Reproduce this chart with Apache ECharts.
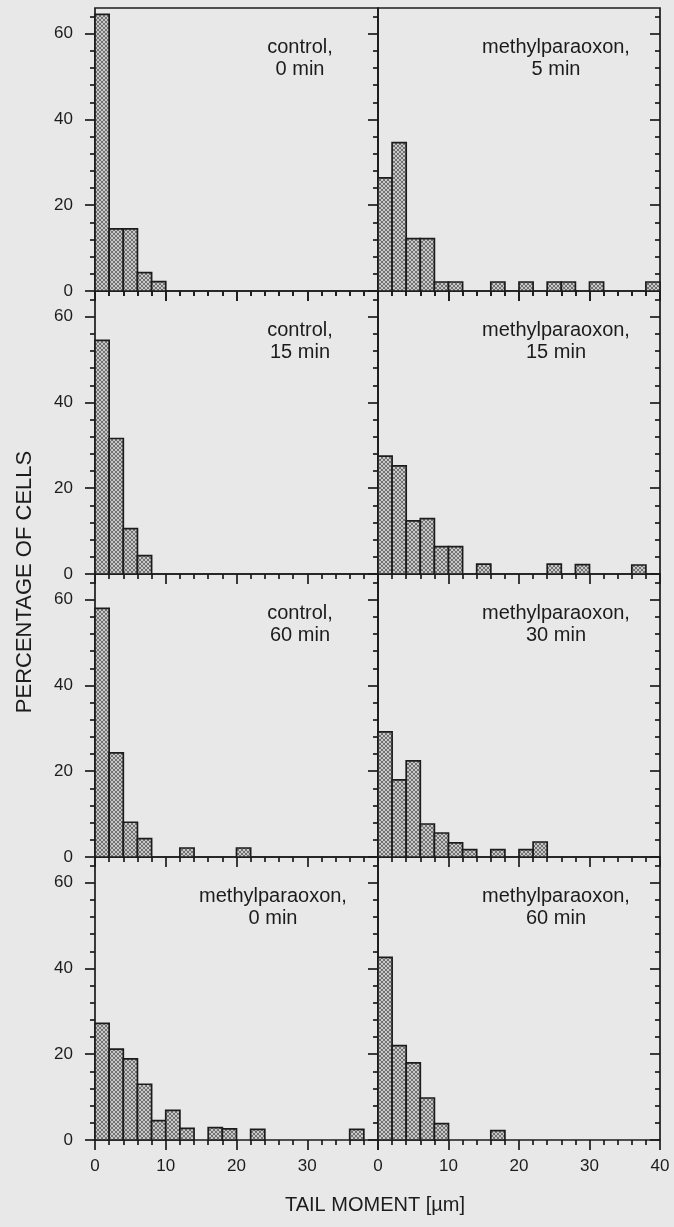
<!DOCTYPE html>
<html>
<head>
<meta charset="utf-8">
<title>Tail moment histograms</title>
<script src="https://cdn.jsdelivr.net/npm/echarts@6/dist/echarts.min.js"></script>
<style>
  html, body { margin: 0; padding: 0; background: #e8e8e8; }
  #chart { width: 674px; height: 1227px; }
</style>
</head>
<body>
<div id="chart"></div>
<script>
// percentage of cells per 2 µm bin, bins 0-2 ... 38-40
var binWidth = 2;
var control0 = [64.5, 14.5, 14.5, 4.3, 2.2, 0, 0, 0, 0, 0, 0, 0, 0, 0, 0, 0, 0, 0, 0, 0];
var mp5      = [26.4, 34.6, 12.2, 12.2, 2.1, 2.1, 0, 0, 2.1, 0, 2.1, 0, 2.1, 2.1, 0, 2.1, 0, 0, 0, 2.1];
var control15 = [54.5, 31.6, 10.6, 4.3, 0, 0, 0, 0, 0, 0, 0, 0, 0, 0, 0, 0, 0, 0, 0, 0];
var mp15     = [27.5, 25.2, 12.4, 12.9, 6.4, 6.4, 0, 2.3, 0, 0, 0, 0, 2.3, 0, 2.2, 0, 0, 0, 2.1, 0];
var control60 = [58.0, 24.3, 8.1, 4.3, 0, 0, 2.1, 0, 0, 0, 2.1, 0, 0, 0, 0, 0, 0, 0, 0, 0];
var mp30     = [29.2, 18.0, 22.4, 7.7, 5.6, 3.3, 1.7, 0, 1.7, 0, 1.7, 3.5, 0, 0, 0, 0, 0, 0, 0, 0];
var mp0      = [27.2, 21.2, 18.9, 13.0, 4.5, 6.9, 2.7, 0, 2.9, 2.6, 0, 2.5, 0, 0, 0, 0, 0, 0, 2.5, 0];
var mp60     = [42.6, 22.0, 18.0, 9.8, 3.8, 0, 0, 0, 2.2, 0, 0, 0, 0, 0, 0, 0, 0, 0, 0, 0];

var yMajor = [0, 20, 40, 60];
var yMinor = [4, 8, 12, 16, 24, 28, 32, 36, 44, 48, 52, 56, 64];
var xLabelsLeft = [0, 10, 20, 30];
var xLabelsRight = [0, 10, 20, 30, 40];

var panels = [
    { title: ['control,', '0 min'], data: control0, row: 0, col: 0 },
    { title: ['methylparaoxon,', '5 min'], data: mp5, row: 0, col: 1 },
    { title: ['control,', '15 min'], data: control15, row: 1, col: 0 },
    { title: ['methylparaoxon,', '15 min'], data: mp15, row: 1, col: 1 },
    { title: ['control,', '60 min'], data: control60, row: 2, col: 0 },
    { title: ['methylparaoxon,', '30 min'], data: mp30, row: 2, col: 1 },
    { title: ['methylparaoxon,', '0 min'], data: mp0, row: 3, col: 0 },
    { title: ['methylparaoxon,', '60 min'], data: mp60, row: 3, col: 1 }
];

var ink = '#1c1c1c';
var font = '"Liberation Sans", Arial, sans-serif';
var colLeft = [95, 378];
var colWidth = [283, 282];
var rowTop = 8, rowHeight = 283;
var lw = 1.7;

// cross-hatch fill like the printed bars
var tile = document.createElement('canvas');
tile.width = 4; tile.height = 4;
var tctx = tile.getContext('2d');
tctx.fillStyle = '#c8c8c8';
tctx.fillRect(0, 0, 4, 4);
tctx.fillStyle = '#727272';
for (var i = 0; i < 4; i++) {
    tctx.fillRect(i, i, 1, 1);
    tctx.fillRect(3 - i, i, 1, 1);
}
var hatch = { image: tile, repeat: 'repeat' };

var grids = [], xAxes = [], yAxes = [], series = [], graphics = [];

function tickAxis(extra) {
    var base = {
        axisLine: { show: false },
        splitLine: { show: false },
        axisLabel: { show: false },
        axisTick: { show: true, length: 10, lineStyle: { color: ink, width: lw } }
    };
    return Object.assign(base, extra);
}

panels.forEach(function (p, k) {
    var top = rowTop + p.row * rowHeight;
    grids.push({
        left: colLeft[p.col], width: colWidth[p.col],
        top: top, height: rowHeight,
        show: true, borderColor: ink, borderWidth: lw,
        backgroundColor: 'transparent'
    });

    // bottom x axis, ticks pointing down
    var xi = xAxes.length;
    var bottomRow = p.row === 3;
    xAxes.push(tickAxis({
        type: 'value', gridIndex: k, min: 0, max: 40, interval: 10, position: 'bottom',
        axisTick: { show: true, inside: false, length: 10, lineStyle: { color: ink, width: lw } },
        minorTick: { show: true, splitNumber: 5, length: 5, lineStyle: { color: ink, width: lw } },
        axisLabel: {
            show: bottomRow, margin: 18, color: ink, fontSize: 17, fontFamily: font,
            customValues: p.col === 0 ? xLabelsLeft : xLabelsRight
        }
    }));
    if (p.row === 0) {
        xAxes.push(tickAxis({
            type: 'value', gridIndex: k, min: 0, max: 40, interval: 10, position: 'top',
            axisTick: { show: true, inside: true, length: 10, lineStyle: { color: ink, width: lw } },
            minorTick: { show: true, splitNumber: 5, length: 5, lineStyle: { color: ink, width: lw } }
        }));
    }

    // left y axis (major + minor ticks), ticks outward
    var yi = yAxes.length;
    yAxes.push(tickAxis({
        type: 'value', gridIndex: k, min: 0, max: 66, position: 'left',
        axisTick: { show: true, inside: false, length: 10, customValues: yMajor, lineStyle: { color: ink, width: lw } },
        axisLabel: {
            show: p.col === 0, margin: 22, color: ink, fontSize: 17, fontFamily: font,
            customValues: yMajor
        }
    }));
    yAxes.push(tickAxis({
        type: 'value', gridIndex: k, min: 0, max: 66, position: 'left',
        axisTick: { show: true, inside: false, length: 5, customValues: yMinor, lineStyle: { color: ink, width: lw } }
    }));
    if (p.col === 1) {
        yAxes.push(tickAxis({
            type: 'value', gridIndex: k, min: 0, max: 66, position: 'right',
            axisTick: { show: true, inside: true, length: 10, customValues: yMajor, lineStyle: { color: ink, width: lw } }
        }));
        yAxes.push(tickAxis({
            type: 'value', gridIndex: k, min: 0, max: 66, position: 'right',
            axisTick: { show: true, inside: true, length: 5, customValues: yMinor, lineStyle: { color: ink, width: lw } }
        }));
    }

    var bars = [];
    p.data.forEach(function (v, b) {
        if (v > 0) bars.push([b * binWidth, (b + 1) * binWidth, v]);
    });
    series.push({
        type: 'custom',
        xAxisIndex: xi,
        yAxisIndex: yi,
        encode: { x: [0, 1], y: 2 },
        data: bars,
        silent: true,
        renderItem: function (params, api) {
            var p0 = api.coord([api.value(0), api.value(2)]);
            var p1 = api.coord([api.value(1), 0]);
            return {
                type: 'rect',
                shape: { x: p0[0], y: p0[1], width: p1[0] - p0[0], height: p1[1] - p0[1] },
                style: { fill: hatch, stroke: ink, lineWidth: lw }
            };
        }
    });

    var cx = colLeft[p.col] + (p.title[0] === 'control,' ? 205 : 178);
    graphics.push({
        type: 'text',
        x: cx, y: top + 28,
        style: {
            text: p.title.join('\n'),
            align: 'center', verticalAlign: 'top',
            lineHeight: 22, fill: ink,
            font: '20px ' + font
        }
    });
});

graphics.push({
    type: 'text', x: 25, y: 582, rotation: Math.PI / 2,
    style: {
        text: 'PERCENTAGE OF CELLS', align: 'center', verticalAlign: 'middle',
        fill: ink, font: '22px ' + font
    }
});
graphics.push({
    type: 'text', x: 375, y: 1205,
    style: {
        text: 'TAIL MOMENT [µm]', align: 'center', verticalAlign: 'middle',
        fill: ink, font: '20px ' + font
    }
});

var chart = echarts.init(document.getElementById('chart'), null, { renderer: 'canvas' });
chart.setOption({
    backgroundColor: '#e8e8e8',
    animation: false,
    grid: grids,
    xAxis: xAxes,
    yAxis: yAxes,
    series: series,
    graphic: graphics
});
</script>
</body>
</html>
